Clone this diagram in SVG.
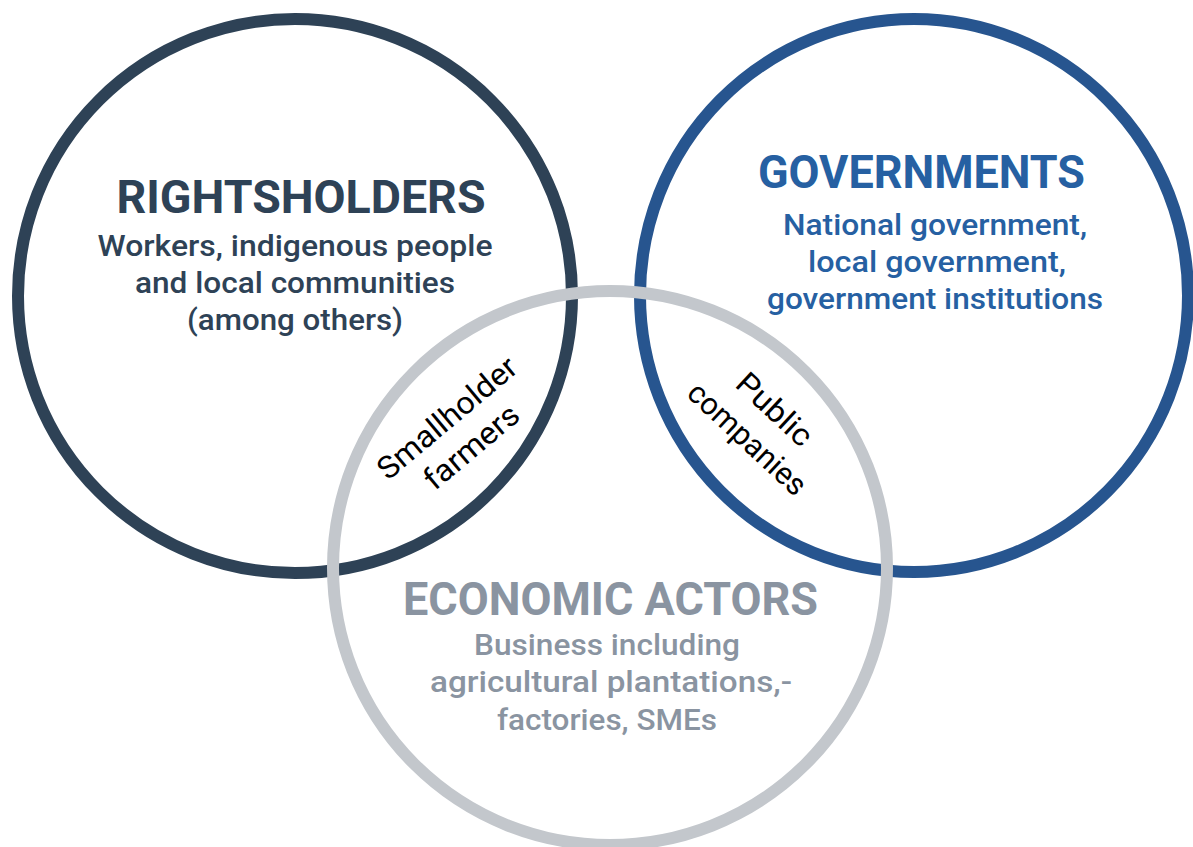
<svg xmlns="http://www.w3.org/2000/svg" width="1193" height="847" viewBox="0 0 1193 847">
<style>
.ring{fill:none;stroke-width:12}
.h{font-family:Roboto,"Liberation Sans",sans-serif;font-weight:700;font-size:47px;text-anchor:middle}
.b{font-family:Roboto,"Liberation Sans",sans-serif;font-weight:500;font-size:29px;text-anchor:middle}
.o{font-family:Roboto,"Liberation Sans",sans-serif;font-weight:400;font-size:31px;text-anchor:middle;fill:#000}
.navy{fill:#2e4256}
.blue{fill:#2660a2}
.grey{fill:#8a94a1}
</style>
<rect width="1193" height="847" fill="#fff"/>
<g id="rightsholders">
<circle class="ring" cx="295" cy="296" r="277" stroke="#2e4256"/>
<text class="h navy" x="301" y="213" textLength="369" lengthAdjust="spacingAndGlyphs">RIGHTSHOLDERS</text>
<text class="b navy" x="295" y="256" textLength="395" lengthAdjust="spacingAndGlyphs">Workers, indigenous people</text>
<text class="b navy" x="295" y="293" textLength="320" lengthAdjust="spacingAndGlyphs">and local communities</text>
<text class="b navy" x="295" y="330" textLength="216" lengthAdjust="spacingAndGlyphs">(among others)</text>
</g>
<g id="governments">
<ellipse class="ring" cx="914" cy="295.5" rx="274" ry="276.5" stroke="#27558f"/>
<text class="h blue" x="921.5" y="188" textLength="327" lengthAdjust="spacingAndGlyphs">GOVERNMENTS</text>
<text class="b blue" x="935" y="235" textLength="304" lengthAdjust="spacingAndGlyphs">National government,</text>
<text class="b blue" x="937" y="272" textLength="258" lengthAdjust="spacingAndGlyphs">local government,</text>
<text class="b blue" x="935" y="309" textLength="336" lengthAdjust="spacingAndGlyphs">government institutions</text>
</g>
<g id="economic-actors">
<circle class="ring" cx="610" cy="568" r="277" stroke="#c3c7cc"/>
<text class="h grey" x="610.5" y="615" textLength="415" lengthAdjust="spacingAndGlyphs">ECONOMIC ACTORS</text>
<text class="b grey" x="607" y="655" textLength="266" lengthAdjust="spacingAndGlyphs">Business including</text>
<text class="b grey" x="611" y="692" textLength="362" lengthAdjust="spacingAndGlyphs">agricultural plantations,-</text>
<text class="b grey" x="607" y="730" textLength="220" lengthAdjust="spacingAndGlyphs">factories, SMEs</text>
</g>
<g id="smallholder-farmers" transform="translate(459 432) rotate(-40)">
<text class="o" x="0" y="-8" textLength="172" lengthAdjust="spacingAndGlyphs">Smallholder</text>
<text class="o" x="0" y="30" textLength="114" lengthAdjust="spacingAndGlyphs">farmers</text>
</g>
<g id="public-companies" transform="translate(762 423) rotate(43)">
<text class="o" x="0" y="-8" textLength="92" lengthAdjust="spacingAndGlyphs">Public</text>
<text class="o" x="0" y="32" textLength="150" lengthAdjust="spacingAndGlyphs">companies</text>
</g>
<g id="connectors"/>
</svg>
